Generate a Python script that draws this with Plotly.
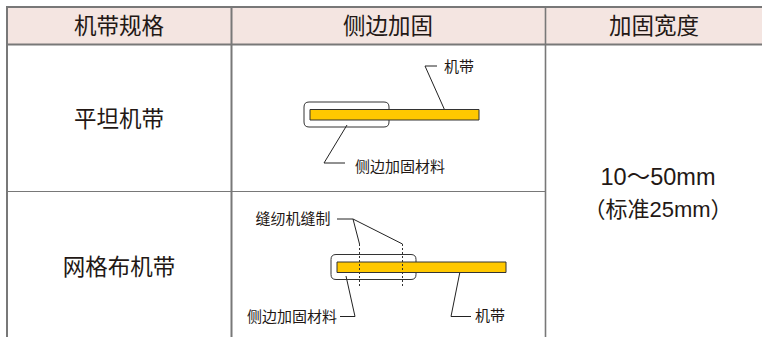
import plotly.graph_objects as go

FONT = "Liberation Sans, Noto Sans CJK SC, sans-serif"
TEXT = "#231815"
GRID = "#787878"
HEADER_FILL = "#f4e5e1"
BELT_FILL = "#ffc800"

headers = ["机带规格", "侧边加固", "加固宽度"]
header_x = [119, 388, 654]
header_y = 28
specs = ["平坦机带", "网格布机带"]
spec_x = 119
spec_y = [121.5, 269.5]
width_lines = ["10～50mm", "（标准25mm）"]
width_x = 658
width_y = [179, 211]

# table rules: x0, y0, x1, y1, line width
rules = [
    (6, 7, 762, 7, 2), (6, 44.5, 762, 44.5, 2), (7, 7, 7, 337, 2),
    (231.5, 7, 231.5, 337, 2), (545.5, 7, 545.5, 337, 1.6),
    (7, 191.5, 545.5, 191.5, 1.2),
]

# belts: x0, y0, x1, y1
belts = [(310, 109.5, 479, 120), (337, 262, 506, 272.5)]
# outlines: x0, y0, x1, y1
guards = [(304, 102, 389, 127), (331, 254.5, 416, 279.5)]

leaders = [
    ([437, 425, 446], [66, 66, 113]),
    ([347, 324, 345], [125, 163, 163]),
    ([337, 353, 359.5], [219, 219, 244]),
    ([353, 402.5], [219, 244]),
    ([340, 355, 346], [316.5, 316.5, 276]),
    ([471, 451, 461], [316.5, 316.5, 266.5]),
]
seams_x = [359.5, 402.5]
seams_y = [244, 286]

notes = ["机带", "侧边加固材料", "缝纫机缝制", "侧边加固材料", "机带"]
note_x = [459, 400, 293, 292, 490]
note_y = [68, 168, 220, 318, 317]

fig = go.Figure()
shapes = [dict(type="rect", x0=7, y0=7, x1=762, y1=44.5, fillcolor=HEADER_FILL, line_width=0, layer="below")]

def rounded(x0, y0, x1, y1, r=5):
    return (f"M{x0+r},{y0} L{x1-r},{y0} Q{x1},{y0} {x1},{y0+r} L{x1},{y1-r} Q{x1},{y1} {x1-r},{y1} "
            f"L{x0+r},{y1} Q{x0},{y1} {x0},{y1-r} L{x0},{y0+r} Q{x0},{y0} {x0+r},{y0} Z")

for g in guards:
    shapes.append(dict(type="path", path=rounded(*g), line=dict(color="#333333", width=1), fillcolor="rgba(0,0,0,0)"))
for b in belts:
    shapes.append(dict(type="rect", x0=b[0], y0=b[1], x1=b[2], y1=b[3], fillcolor=BELT_FILL,
                       line=dict(color="#333333", width=1)))
for x0, y0, x1, y1, w in rules:
    shapes.append(dict(type="line", x0=x0, y0=y0, x1=x1, y1=y1, line=dict(color=GRID, width=w)))
for sx in seams_x:
    shapes.append(dict(type="line", x0=sx, x1=sx, y0=seams_y[0], y1=seams_y[1],
                       line=dict(color="#333333", width=1, dash="2px,2px")))
fig.update_layout(shapes=shapes)

for xs, ys in leaders:
    fig.add_trace(go.Scatter(x=xs, y=ys, mode="lines", line=dict(color="#222222", width=1), showlegend=False, hoverinfo="skip"))

def label(xs, ys, texts, size):
    fig.add_trace(go.Scatter(x=xs, y=ys, mode="text", text=texts, textposition="middle center",
                             textfont=dict(family=FONT, size=size, color=TEXT), showlegend=False, hoverinfo="skip"))

label(header_x, [header_y] * 3, headers, 22.5)
label([spec_x] * 2, spec_y, specs, 22.5)
label([width_x], width_y[:1], width_lines[:1], 23.5)
label([width_x], width_y[1:], width_lines[1:], 22)
label(note_x, note_y, notes, 15)

fig.update_layout(
    width=762, height=337, margin=dict(l=0, r=0, t=0, b=0),
    paper_bgcolor="white", plot_bgcolor="white", showlegend=False,
    xaxis=dict(range=[0, 762], visible=False, fixedrange=True),
    yaxis=dict(range=[337, 0], visible=False, fixedrange=True),
)
fig.write_html("out.html", config=dict(displayModeBar=False),
               post_script="document.body.style.margin='0';document.documentElement.style.overflow='hidden';")
